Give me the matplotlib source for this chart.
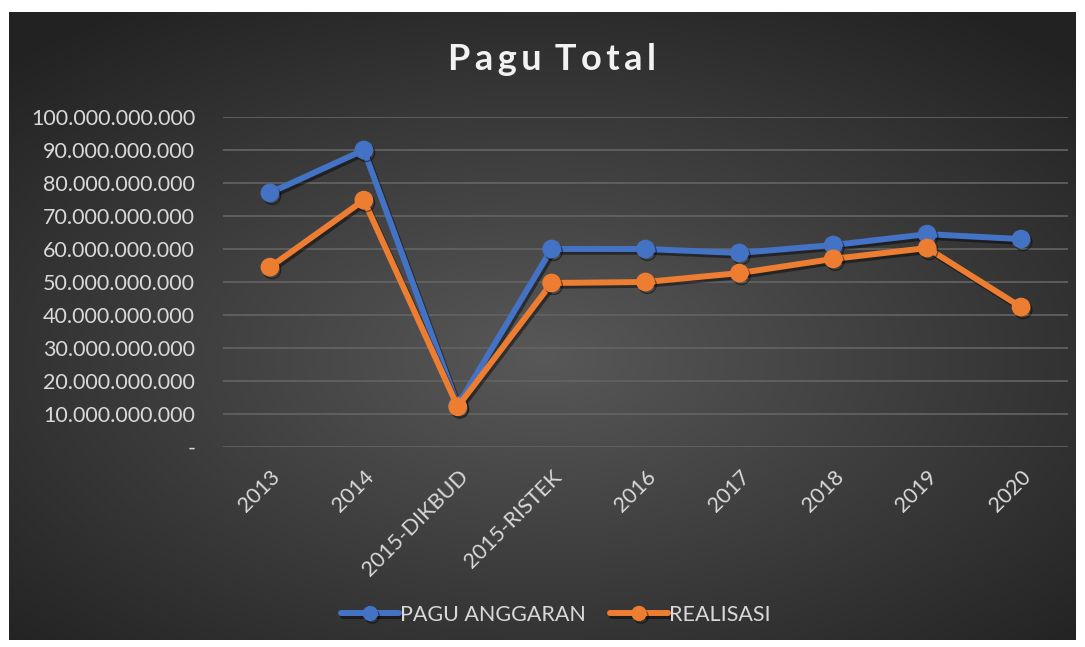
import numpy as np
import matplotlib.pyplot as plt
import matplotlib.patheffects as pe
from matplotlib.ticker import FuncFormatter

# data
kategori = ["2013", "2014", "2015-DIKBUD", "2015-RISTEK", "2016", "2017", "2018", "2019", "2020"]
pagu_anggaran = [77.0e9, 90.0e9, 12.6e9, 60.0e9, 60.0e9, 58.8e9, 61.2e9, 64.5e9, 63.0e9]
realisasi = [54.5e9, 74.8e9, 12.2e9, 49.7e9, 50.0e9, 52.7e9, 57.0e9, 60.3e9, 42.4e9]

plt.rcParams['font.family'] = ['Lato', 'DejaVu Sans']

fig = plt.figure(figsize=(10.85, 6.47), dpi=100, facecolor="white")

# ---- background with radial gradient ----
W, H = 1085, 647
x0, y0, x1, y1 = 9, 12, 1076, 640
bg = fig.add_axes([x0 / W, 1 - y1 / H, (x1 - x0) / W, (y1 - y0) / H])
gx, gy = np.meshgrid(np.linspace(-1, 1, 600), np.linspace(-1, 1, 400))
r = np.sqrt((gx * 0.95) ** 2 + ((gy - 0.1) * 1.0) ** 2)
r = np.clip(r / 1.35, 0, 1)
inner = np.array([0x58, 0x58, 0x58]) / 255
outer = np.array([0x22, 0x22, 0x22]) / 255
img = inner[None, None, :] * (1 - r[..., None]) + outer[None, None, :] * r[..., None]
bg.imshow(img, aspect="auto", extent=[0, 1, 0, 1])
bg.axis("off")

# ---- plot area ----
ax_l, ax_r, ax_t, ax_b = 223, 1068, 117, 447
ax = fig.add_axes([ax_l / W, 1 - ax_b / H, (ax_r - ax_l) / W, (ax_b - ax_t) / H])
ax.patch.set_alpha(0)

xs = np.arange(len(kategori))
shadow = [pe.SimpleLineShadow(offset=(1.5, -2), shadow_color="black", alpha=0.45), pe.Normal()]
ax.plot(xs, pagu_anggaran, color="#4472c4", lw=4.3, marker="o", ms=12.5,
        label="PAGU ANGGARAN", path_effects=shadow, zorder=3, solid_capstyle="round")
ax.plot(xs, realisasi, color="#ed7d31", lw=4.3, marker="o", ms=12.5,
        label="REALISASI", path_effects=shadow, zorder=4, solid_capstyle="round")

ax.set_xlim(-0.5, len(kategori) - 0.5)
ax.set_ylim(0, 100e9)
ax.set_yticks(np.arange(0, 100e9 + 1, 10e9))
ax.yaxis.set_major_formatter(FuncFormatter(
    lambda v, p: "-" if v == 0 else f"{int(round(v)):,}".replace(",", ".")))
ax.set_xticks(xs)
ax.set_xticklabels(kategori, rotation=45, ha="right", va="top", rotation_mode="anchor")
ax.grid(axis="y", color="#646464", lw=1.2)
ax.set_axisbelow(True)
for s in ax.spines.values():
    s.set_visible(False)
ax.tick_params(axis="both", length=0, colors="#d9d9d9", labelsize=15.5)
ax.tick_params(axis="y", pad=20)
ax.tick_params(axis="x", pad=14)

fig.text(552 / W, 1 - 60 / H, "\u2009".join("Pagu") + " \u2009" + "\u2009".join("Total"),
         ha="center", va="center", fontsize=26, fontweight="bold", color="#f2f2f2")

leg = fig.legend(loc="center", bbox_to_anchor=(556 / W, 1 - 615 / H), ncol=2, frameon=False,
                 fontsize=15.5, labelcolor="#d9d9d9", handlelength=2.7, handletextpad=0.05,
                 columnspacing=1.1, markerscale=0.8)

plt.savefig("out.png", dpi=100, facecolor="white")
